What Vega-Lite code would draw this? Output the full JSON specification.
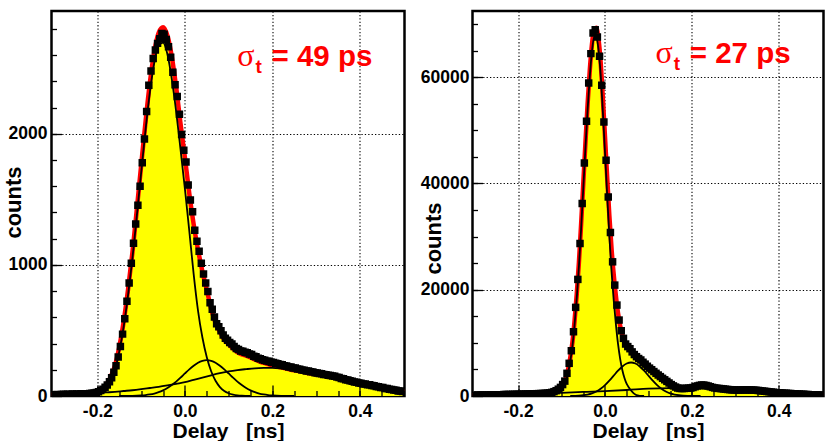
{
  "$schema": "https://vega.github.io/schema/vega-lite/v6.json",
  "padding": {"left": 0.5, "top": 9, "right": 5, "bottom": 0},
  "spacing": 12,
  "config": {
    "view": {"stroke": "black", "strokeWidth": 2.5},
    "font": "Liberation Sans",
    "axis": {
      "labelFont": "Liberation Sans", "labelFontSize": 17.5, "labelFontWeight": "bold", "labelColor": "black",
      "titleFont": "Liberation Sans", "titleFontSize": 21, "titleFontWeight": "bold", "titleColor": "black",
      "tickColor": "black", "tickWidth": 1.3, "domain": false, "grid": false, "labelFlush": false
    }
  },
  "datasets": {
    "la": [
      {"t": -0.2975, "n": 10}, {"t": -0.2925, "n": 12}, {"t": -0.2875, "n": 9}, {"t": -0.2825, "n": 11},
      {"t": -0.2775, "n": 13}, {"t": -0.2725, "n": 11}, {"t": -0.2675, "n": 14}, {"t": -0.2625, "n": 12},
      {"t": -0.2575, "n": 15}, {"t": -0.2525, "n": 13}, {"t": -0.2475, "n": 16}, {"t": -0.2425, "n": 14},
      {"t": -0.2375, "n": 17}, {"t": -0.2325, "n": 16}, {"t": -0.2275, "n": 18}, {"t": -0.2225, "n": 17},
      {"t": -0.2175, "n": 20}, {"t": -0.2125, "n": 21}, {"t": -0.2075, "n": 23}, {"t": -0.2025, "n": 26},
      {"t": -0.1975, "n": 32}, {"t": -0.1925, "n": 41}, {"t": -0.1875, "n": 52}, {"t": -0.1825, "n": 66},
      {"t": -0.1775, "n": 84}, {"t": -0.1725, "n": 108}, {"t": -0.1675, "n": 140}, {"t": -0.1625, "n": 182},
      {"t": -0.1575, "n": 230}, {"t": -0.1525, "n": 298}, {"t": -0.1475, "n": 378}, {"t": -0.1425, "n": 472},
      {"t": -0.1375, "n": 590}, {"t": -0.1325, "n": 722}, {"t": -0.1275, "n": 862}, {"t": -0.1225, "n": 1012},
      {"t": -0.1175, "n": 1165}, {"t": -0.1125, "n": 1312}, {"t": -0.1075, "n": 1455}, {"t": -0.1025, "n": 1600},
      {"t": -0.0975, "n": 1780}, {"t": -0.0925, "n": 1960}, {"t": -0.0875, "n": 2170}, {"t": -0.0825, "n": 2370},
      {"t": -0.0775, "n": 2480}, {"t": -0.0725, "n": 2575}, {"t": -0.0675, "n": 2640}, {"t": -0.0625, "n": 2690},
      {"t": -0.0575, "n": 2725}, {"t": -0.0525, "n": 2765}, {"t": -0.0475, "n": 2760}, {"t": -0.0425, "n": 2720},
      {"t": -0.0375, "n": 2665}, {"t": -0.0325, "n": 2585}, {"t": -0.0275, "n": 2470}, {"t": -0.0225, "n": 2375},
      {"t": -0.0175, "n": 2285}, {"t": -0.0125, "n": 2150}, {"t": -0.0075, "n": 1995}, {"t": -0.0025, "n": 1875},
      {"t": 0.0025, "n": 1785}, {"t": 0.0075, "n": 1610}, {"t": 0.0125, "n": 1495}, {"t": 0.0175, "n": 1405},
      {"t": 0.0225, "n": 1265}, {"t": 0.0275, "n": 1180}, {"t": 0.0325, "n": 1105}, {"t": 0.0375, "n": 1012},
      {"t": 0.0425, "n": 930}, {"t": 0.0475, "n": 862}, {"t": 0.0525, "n": 798}, {"t": 0.0575, "n": 712},
      {"t": 0.0625, "n": 662}, {"t": 0.0675, "n": 602}, {"t": 0.0725, "n": 552}, {"t": 0.0775, "n": 528},
      {"t": 0.0825, "n": 497}, {"t": 0.0875, "n": 466}, {"t": 0.0925, "n": 441}, {"t": 0.0975, "n": 426},
      {"t": 0.1025, "n": 408}, {"t": 0.1075, "n": 396}, {"t": 0.1125, "n": 377}, {"t": 0.1175, "n": 362},
      {"t": 0.1225, "n": 354}, {"t": 0.1275, "n": 344}, {"t": 0.1325, "n": 341}, {"t": 0.1375, "n": 333},
      {"t": 0.1425, "n": 330}, {"t": 0.1475, "n": 320}, {"t": 0.1525, "n": 316}, {"t": 0.1575, "n": 304},
      {"t": 0.1625, "n": 299}, {"t": 0.1675, "n": 288}, {"t": 0.1725, "n": 284}, {"t": 0.1775, "n": 276},
      {"t": 0.1825, "n": 273}, {"t": 0.1875, "n": 266}, {"t": 0.1925, "n": 265}, {"t": 0.1975, "n": 258},
      {"t": 0.2025, "n": 256}, {"t": 0.2075, "n": 249}, {"t": 0.2125, "n": 247}, {"t": 0.2175, "n": 240},
      {"t": 0.2225, "n": 238}, {"t": 0.2275, "n": 231}, {"t": 0.2325, "n": 229}, {"t": 0.2375, "n": 222},
      {"t": 0.2425, "n": 221}, {"t": 0.2475, "n": 214}, {"t": 0.2525, "n": 213}, {"t": 0.2575, "n": 206},
      {"t": 0.2625, "n": 205}, {"t": 0.2675, "n": 198}, {"t": 0.2725, "n": 197}, {"t": 0.2775, "n": 191},
      {"t": 0.2825, "n": 191}, {"t": 0.2875, "n": 185}, {"t": 0.2925, "n": 184}, {"t": 0.2975, "n": 178},
      {"t": 0.3025, "n": 176}, {"t": 0.3075, "n": 171}, {"t": 0.3125, "n": 169}, {"t": 0.3175, "n": 164},
      {"t": 0.3225, "n": 163}, {"t": 0.3275, "n": 158}, {"t": 0.3325, "n": 157}, {"t": 0.3375, "n": 152},
      {"t": 0.3425, "n": 150}, {"t": 0.3475, "n": 144}, {"t": 0.3525, "n": 141}, {"t": 0.3575, "n": 134},
      {"t": 0.3625, "n": 131}, {"t": 0.3675, "n": 124}, {"t": 0.3725, "n": 122}, {"t": 0.3775, "n": 116},
      {"t": 0.3825, "n": 113}, {"t": 0.3875, "n": 107}, {"t": 0.3925, "n": 105}, {"t": 0.3975, "n": 99},
      {"t": 0.4025, "n": 97}, {"t": 0.4075, "n": 92}, {"t": 0.4125, "n": 91}, {"t": 0.4175, "n": 86},
      {"t": 0.4225, "n": 85}, {"t": 0.4275, "n": 80}, {"t": 0.4325, "n": 78}, {"t": 0.4375, "n": 73},
      {"t": 0.4425, "n": 71}, {"t": 0.4475, "n": 65}, {"t": 0.4525, "n": 64}, {"t": 0.4575, "n": 58},
      {"t": 0.4625, "n": 57}, {"t": 0.4675, "n": 52}, {"t": 0.4725, "n": 50}, {"t": 0.4775, "n": 45},
      {"t": 0.4825, "n": 44}, {"t": 0.4875, "n": 39}, {"t": 0.4925, "n": 38}, {"t": 0.4975, "n": 34}
    ],
    "lf": [
      {"t": -0.305, "n": 10}, {"t": -0.28, "n": 12}, {"t": -0.26, "n": 14}, {"t": -0.24, "n": 16},
      {"t": -0.23, "n": 19}, {"t": -0.22, "n": 22}, {"t": -0.21, "n": 26}, {"t": -0.2, "n": 34},
      {"t": -0.19, "n": 52}, {"t": -0.18, "n": 85}, {"t": -0.17, "n": 144}, {"t": -0.16, "n": 232},
      {"t": -0.15, "n": 375}, {"t": -0.14, "n": 568}, {"t": -0.13, "n": 812}, {"t": -0.12, "n": 1095},
      {"t": -0.11, "n": 1422}, {"t": -0.1, "n": 1761}, {"t": -0.09, "n": 2093}, {"t": -0.08, "n": 2393},
      {"t": -0.07, "n": 2626}, {"t": -0.06, "n": 2771}, {"t": -0.05, "n": 2813}, {"t": -0.04, "n": 2749},
      {"t": -0.03, "n": 2589}, {"t": -0.02, "n": 2355}, {"t": -0.01, "n": 2076}, {"t": 0, "n": 1820},
      {"t": 0.01, "n": 1545}, {"t": 0.02, "n": 1310}, {"t": 0.03, "n": 1115}, {"t": 0.04, "n": 950},
      {"t": 0.05, "n": 810}, {"t": 0.06, "n": 665}, {"t": 0.07, "n": 560}, {"t": 0.08, "n": 490},
      {"t": 0.09, "n": 430}, {"t": 0.1, "n": 395}, {"t": 0.11, "n": 362}, {"t": 0.12, "n": 334},
      {"t": 0.13, "n": 318}, {"t": 0.14, "n": 308}, {"t": 0.15, "n": 294}, {"t": 0.16, "n": 278},
      {"t": 0.17, "n": 264}, {"t": 0.18, "n": 252}, {"t": 0.19, "n": 243}, {"t": 0.2, "n": 234},
      {"t": 0.22, "n": 218}, {"t": 0.24, "n": 202}, {"t": 0.26, "n": 190}, {"t": 0.28, "n": 176},
      {"t": 0.3, "n": 166}, {"t": 0.32, "n": 154}, {"t": 0.34, "n": 142}, {"t": 0.36, "n": 126},
      {"t": 0.38, "n": 109}, {"t": 0.4, "n": 94}, {"t": 0.42, "n": 82}, {"t": 0.44, "n": 70},
      {"t": 0.46, "n": 57}, {"t": 0.48, "n": 45}, {"t": 0.502, "n": 33}
    ],
    "lc": [
      {"c": "main", "t": -0.25, "n": 0}, {"c": "main", "t": -0.23, "n": 1}, {"c": "main", "t": -0.22, "n": 3},
      {"c": "main", "t": -0.21, "n": 6}, {"c": "main", "t": -0.2, "n": 12}, {"c": "main", "t": -0.19, "n": 28},
      {"c": "main", "t": -0.18, "n": 58}, {"c": "main", "t": -0.17, "n": 115}, {"c": "main", "t": -0.16, "n": 200},
      {"c": "main", "t": -0.15, "n": 340}, {"c": "main", "t": -0.14, "n": 530}, {"c": "main", "t": -0.13, "n": 770},
      {"c": "main", "t": -0.12, "n": 1050}, {"c": "main", "t": -0.11, "n": 1372}, {"c": "main", "t": -0.1, "n": 1705},
      {"c": "main", "t": -0.09, "n": 2030}, {"c": "main", "t": -0.08, "n": 2320}, {"c": "main", "t": -0.07, "n": 2542},
      {"c": "main", "t": -0.06, "n": 2672}, {"c": "main", "t": -0.05, "n": 2695}, {"c": "main", "t": -0.04, "n": 2607},
      {"c": "main", "t": -0.03, "n": 2418}, {"c": "main", "t": -0.02, "n": 2170}, {"c": "main", "t": -0.01, "n": 1880},
      {"c": "main", "t": 0, "n": 1580}, {"c": "main", "t": 0.01, "n": 1260}, {"c": "main", "t": 0.02, "n": 930},
      {"c": "main", "t": 0.03, "n": 650}, {"c": "main", "t": 0.04, "n": 446}, {"c": "main", "t": 0.05, "n": 296},
      {"c": "main", "t": 0.06, "n": 189}, {"c": "main", "t": 0.07, "n": 116}, {"c": "main", "t": 0.08, "n": 68},
      {"c": "main", "t": 0.09, "n": 38}, {"c": "main", "t": 0.1, "n": 21}, {"c": "main", "t": 0.11, "n": 11},
      {"c": "main", "t": 0.12, "n": 5}, {"c": "main", "t": 0.13, "n": 2}, {"c": "main", "t": 0.15, "n": 0},
      {"c": "g2", "t": -0.15, "n": 0}, {"c": "g2", "t": -0.12, "n": 1}, {"c": "g2", "t": -0.1, "n": 4},
      {"c": "g2", "t": -0.09, "n": 7}, {"c": "g2", "t": -0.08, "n": 12}, {"c": "g2", "t": -0.07, "n": 19},
      {"c": "g2", "t": -0.06, "n": 29}, {"c": "g2", "t": -0.05, "n": 43}, {"c": "g2", "t": -0.04, "n": 61},
      {"c": "g2", "t": -0.03, "n": 84}, {"c": "g2", "t": -0.02, "n": 110}, {"c": "g2", "t": -0.01, "n": 140},
      {"c": "g2", "t": 0, "n": 172}, {"c": "g2", "t": 0.01, "n": 203}, {"c": "g2", "t": 0.02, "n": 231},
      {"c": "g2", "t": 0.03, "n": 254}, {"c": "g2", "t": 0.04, "n": 268}, {"c": "g2", "t": 0.05, "n": 273},
      {"c": "g2", "t": 0.06, "n": 268}, {"c": "g2", "t": 0.07, "n": 254}, {"c": "g2", "t": 0.08, "n": 231},
      {"c": "g2", "t": 0.09, "n": 203}, {"c": "g2", "t": 0.1, "n": 172}, {"c": "g2", "t": 0.11, "n": 140},
      {"c": "g2", "t": 0.12, "n": 110}, {"c": "g2", "t": 0.13, "n": 84}, {"c": "g2", "t": 0.14, "n": 61},
      {"c": "g2", "t": 0.15, "n": 43}, {"c": "g2", "t": 0.16, "n": 29}, {"c": "g2", "t": 0.17, "n": 19},
      {"c": "g2", "t": 0.18, "n": 12}, {"c": "g2", "t": 0.19, "n": 7}, {"c": "g2", "t": 0.2, "n": 4},
      {"c": "g2", "t": 0.22, "n": 1}, {"c": "g2", "t": 0.25, "n": 0},
      {"c": "bg", "t": -0.305, "n": 10}, {"c": "bg", "t": -0.28, "n": 12}, {"c": "bg", "t": -0.26, "n": 14},
      {"c": "bg", "t": -0.24, "n": 16}, {"c": "bg", "t": -0.22, "n": 19}, {"c": "bg", "t": -0.2, "n": 22},
      {"c": "bg", "t": -0.18, "n": 27}, {"c": "bg", "t": -0.16, "n": 32}, {"c": "bg", "t": -0.14, "n": 38},
      {"c": "bg", "t": -0.12, "n": 44}, {"c": "bg", "t": -0.1, "n": 52}, {"c": "bg", "t": -0.08, "n": 61},
      {"c": "bg", "t": -0.06, "n": 70}, {"c": "bg", "t": -0.04, "n": 81}, {"c": "bg", "t": -0.02, "n": 93},
      {"c": "bg", "t": 0, "n": 105}, {"c": "bg", "t": 0.02, "n": 123}, {"c": "bg", "t": 0.04, "n": 141},
      {"c": "bg", "t": 0.06, "n": 158}, {"c": "bg", "t": 0.08, "n": 174}, {"c": "bg", "t": 0.1, "n": 188},
      {"c": "bg", "t": 0.12, "n": 198}, {"c": "bg", "t": 0.14, "n": 205}, {"c": "bg", "t": 0.16, "n": 211},
      {"c": "bg", "t": 0.18, "n": 214}, {"c": "bg", "t": 0.2, "n": 215}, {"c": "bg", "t": 0.22, "n": 210},
      {"c": "bg", "t": 0.24, "n": 201}, {"c": "bg", "t": 0.26, "n": 190}, {"c": "bg", "t": 0.28, "n": 176},
      {"c": "bg", "t": 0.3, "n": 166}, {"c": "bg", "t": 0.32, "n": 154}, {"c": "bg", "t": 0.34, "n": 142},
      {"c": "bg", "t": 0.36, "n": 126}, {"c": "bg", "t": 0.38, "n": 109}, {"c": "bg", "t": 0.4, "n": 94},
      {"c": "bg", "t": 0.42, "n": 82}, {"c": "bg", "t": 0.44, "n": 70}, {"c": "bg", "t": 0.46, "n": 57},
      {"c": "bg", "t": 0.48, "n": 45}, {"c": "bg", "t": 0.502, "n": 33}
    ],
    "ra": [
      {"t": -0.2975, "n": 160}, {"t": -0.2925, "n": 168}, {"t": -0.2875, "n": 172}, {"t": -0.2825, "n": 186},
      {"t": -0.2775, "n": 188}, {"t": -0.2725, "n": 202}, {"t": -0.2675, "n": 204}, {"t": -0.2625, "n": 216},
      {"t": -0.2575, "n": 220}, {"t": -0.2525, "n": 232}, {"t": -0.2475, "n": 238}, {"t": -0.2425, "n": 252},
      {"t": -0.2375, "n": 254}, {"t": -0.2325, "n": 266}, {"t": -0.2275, "n": 274}, {"t": -0.2225, "n": 286},
      {"t": -0.2175, "n": 294}, {"t": -0.2125, "n": 306}, {"t": -0.2075, "n": 314}, {"t": -0.2025, "n": 326},
      {"t": -0.1975, "n": 334}, {"t": -0.1925, "n": 346}, {"t": -0.1875, "n": 354}, {"t": -0.1825, "n": 370},
      {"t": -0.1775, "n": 380}, {"t": -0.1725, "n": 392}, {"t": -0.1675, "n": 404}, {"t": -0.1625, "n": 420},
      {"t": -0.1575, "n": 434}, {"t": -0.1525, "n": 450}, {"t": -0.1475, "n": 466}, {"t": -0.1425, "n": 486},
      {"t": -0.1375, "n": 510}, {"t": -0.1325, "n": 546}, {"t": -0.1275, "n": 600}, {"t": -0.1225, "n": 680},
      {"t": -0.1175, "n": 820}, {"t": -0.1125, "n": 1000}, {"t": -0.1075, "n": 1280}, {"t": -0.1025, "n": 1620},
      {"t": -0.0975, "n": 2150}, {"t": -0.0925, "n": 2800}, {"t": -0.0875, "n": 4270}, {"t": -0.0825, "n": 6150},
      {"t": -0.0775, "n": 8520}, {"t": -0.0725, "n": 12090}, {"t": -0.0675, "n": 16680}, {"t": -0.0625, "n": 21940},
      {"t": -0.0575, "n": 28700}, {"t": -0.0525, "n": 36230}, {"t": -0.0475, "n": 43860}, {"t": -0.0425, "n": 51700},
      {"t": -0.0375, "n": 58900}, {"t": -0.0325, "n": 64430}, {"t": -0.0275, "n": 68300}, {"t": -0.0225, "n": 68940},
      {"t": -0.0175, "n": 67550}, {"t": -0.0125, "n": 63920}, {"t": -0.0075, "n": 58470}, {"t": -0.0025, "n": 51570},
      {"t": 0.0025, "n": 44370}, {"t": 0.0075, "n": 37470}, {"t": 0.0125, "n": 30770}, {"t": 0.0175, "n": 25250},
      {"t": 0.0225, "n": 20870}, {"t": 0.0275, "n": 17110}, {"t": 0.0325, "n": 14290}, {"t": 0.0375, "n": 12280},
      {"t": 0.0425, "n": 10850}, {"t": 0.0475, "n": 9780}, {"t": 0.0525, "n": 9300}, {"t": 0.0575, "n": 8900},
      {"t": 0.0625, "n": 8300}, {"t": 0.0675, "n": 7800}, {"t": 0.0725, "n": 7400}, {"t": 0.0775, "n": 7050},
      {"t": 0.0825, "n": 6780}, {"t": 0.0875, "n": 6350}, {"t": 0.0925, "n": 6000}, {"t": 0.0975, "n": 5600},
      {"t": 0.1025, "n": 5250}, {"t": 0.1075, "n": 4950}, {"t": 0.1125, "n": 4600}, {"t": 0.1175, "n": 4270},
      {"t": 0.1225, "n": 3950}, {"t": 0.1275, "n": 3650}, {"t": 0.1325, "n": 3330}, {"t": 0.1375, "n": 3050},
      {"t": 0.1425, "n": 2750}, {"t": 0.1475, "n": 2450}, {"t": 0.1525, "n": 2150}, {"t": 0.1575, "n": 1900},
      {"t": 0.1625, "n": 1680}, {"t": 0.1675, "n": 1500}, {"t": 0.1725, "n": 1420}, {"t": 0.1775, "n": 1400},
      {"t": 0.1825, "n": 1420}, {"t": 0.1875, "n": 1450}, {"t": 0.1925, "n": 1480}, {"t": 0.1975, "n": 1500},
      {"t": 0.2025, "n": 1600}, {"t": 0.2075, "n": 1750}, {"t": 0.2125, "n": 1900}, {"t": 0.2175, "n": 2000},
      {"t": 0.2225, "n": 2070}, {"t": 0.2275, "n": 2050}, {"t": 0.2325, "n": 1980}, {"t": 0.2375, "n": 1880},
      {"t": 0.2425, "n": 1750}, {"t": 0.2475, "n": 1620}, {"t": 0.2525, "n": 1520}, {"t": 0.2575, "n": 1460},
      {"t": 0.2625, "n": 1420}, {"t": 0.2675, "n": 1380}, {"t": 0.2725, "n": 1330}, {"t": 0.2775, "n": 1280},
      {"t": 0.2825, "n": 1230}, {"t": 0.2875, "n": 1190}, {"t": 0.2925, "n": 1160}, {"t": 0.2975, "n": 1140},
      {"t": 0.3025, "n": 1130}, {"t": 0.3075, "n": 1130}, {"t": 0.3125, "n": 1130}, {"t": 0.3175, "n": 1140},
      {"t": 0.3225, "n": 1150}, {"t": 0.3275, "n": 1150}, {"t": 0.3325, "n": 1140}, {"t": 0.3375, "n": 1130},
      {"t": 0.3425, "n": 1110}, {"t": 0.3475, "n": 1080}, {"t": 0.3525, "n": 1040}, {"t": 0.3575, "n": 1000},
      {"t": 0.3625, "n": 950}, {"t": 0.3675, "n": 900}, {"t": 0.3725, "n": 850}, {"t": 0.3775, "n": 800},
      {"t": 0.3825, "n": 750}, {"t": 0.3875, "n": 710}, {"t": 0.3925, "n": 670}, {"t": 0.3975, "n": 630},
      {"t": 0.4025, "n": 600}, {"t": 0.4075, "n": 570}, {"t": 0.4125, "n": 540}, {"t": 0.4175, "n": 510},
      {"t": 0.4225, "n": 480}, {"t": 0.4275, "n": 455}, {"t": 0.4325, "n": 430}, {"t": 0.4375, "n": 405},
      {"t": 0.4425, "n": 380}, {"t": 0.4475, "n": 360}, {"t": 0.4525, "n": 340}, {"t": 0.4575, "n": 320},
      {"t": 0.4625, "n": 300}, {"t": 0.4675, "n": 280}, {"t": 0.4725, "n": 260}, {"t": 0.4775, "n": 245},
      {"t": 0.4825, "n": 230}, {"t": 0.4875, "n": 215}, {"t": 0.4925, "n": 200}, {"t": 0.4975, "n": 190}
    ],
    "rf": [
      {"t": -0.305, "n": 150}, {"t": -0.28, "n": 180}, {"t": -0.26, "n": 215}, {"t": -0.24, "n": 250},
      {"t": -0.22, "n": 285}, {"t": -0.2, "n": 325}, {"t": -0.18, "n": 370}, {"t": -0.16, "n": 425},
      {"t": -0.14, "n": 480}, {"t": -0.13, "n": 530}, {"t": -0.125, "n": 600}, {"t": -0.12, "n": 700},
      {"t": -0.115, "n": 880}, {"t": -0.11, "n": 1120}, {"t": -0.105, "n": 1450}, {"t": -0.1, "n": 1850},
      {"t": -0.095, "n": 2500}, {"t": -0.09, "n": 3400}, {"t": -0.085, "n": 5000}, {"t": -0.08, "n": 7200},
      {"t": -0.075, "n": 10100}, {"t": -0.07, "n": 14200}, {"t": -0.065, "n": 19200}, {"t": -0.06, "n": 25200},
      {"t": -0.055, "n": 32300}, {"t": -0.05, "n": 40000}, {"t": -0.045, "n": 47700}, {"t": -0.04, "n": 55000},
      {"t": -0.035, "n": 61300}, {"t": -0.03, "n": 66200}, {"t": -0.025, "n": 69000}, {"t": -0.02, "n": 69300},
      {"t": -0.015, "n": 67200}, {"t": -0.01, "n": 62800}, {"t": -0.005, "n": 56200}, {"t": 0, "n": 48800},
      {"t": 0.005, "n": 41200}, {"t": 0.01, "n": 34000}, {"t": 0.015, "n": 27800}, {"t": 0.02, "n": 22900},
      {"t": 0.025, "n": 18900}, {"t": 0.03, "n": 15600}, {"t": 0.035, "n": 13200}, {"t": 0.04, "n": 11500},
      {"t": 0.045, "n": 10300}, {"t": 0.05, "n": 9500}, {"t": 0.055, "n": 9000}, {"t": 0.06, "n": 8500},
      {"t": 0.065, "n": 8050}, {"t": 0.07, "n": 7600}, {"t": 0.075, "n": 7200}, {"t": 0.08, "n": 6800},
      {"t": 0.09, "n": 6150}, {"t": 0.1, "n": 5400}, {"t": 0.11, "n": 4750}, {"t": 0.12, "n": 4100},
      {"t": 0.13, "n": 3450}, {"t": 0.14, "n": 2850}, {"t": 0.15, "n": 2300}, {"t": 0.16, "n": 1850},
      {"t": 0.17, "n": 1600}, {"t": 0.18, "n": 1480}, {"t": 0.19, "n": 1460}, {"t": 0.2, "n": 1550},
      {"t": 0.21, "n": 1800}, {"t": 0.22, "n": 1980}, {"t": 0.23, "n": 1980}, {"t": 0.24, "n": 1780},
      {"t": 0.25, "n": 1560}, {"t": 0.26, "n": 1430}, {"t": 0.27, "n": 1340}, {"t": 0.28, "n": 1250},
      {"t": 0.29, "n": 1170}, {"t": 0.3, "n": 1130}, {"t": 0.31, "n": 1130}, {"t": 0.32, "n": 1140},
      {"t": 0.33, "n": 1140}, {"t": 0.34, "n": 1120}, {"t": 0.35, "n": 1060}, {"t": 0.36, "n": 970},
      {"t": 0.37, "n": 870}, {"t": 0.38, "n": 770}, {"t": 0.39, "n": 690}, {"t": 0.4, "n": 615},
      {"t": 0.42, "n": 495}, {"t": 0.44, "n": 390}, {"t": 0.46, "n": 310}, {"t": 0.48, "n": 240},
      {"t": 0.503, "n": 180}
    ],
    "rc": [
      {"c": "main", "t": -0.14, "n": 0}, {"c": "main", "t": -0.13, "n": 20}, {"c": "main", "t": -0.125, "n": 70},
      {"c": "main", "t": -0.12, "n": 160}, {"c": "main", "t": -0.115, "n": 330}, {"c": "main", "t": -0.11, "n": 550},
      {"c": "main", "t": -0.105, "n": 870}, {"c": "main", "t": -0.1, "n": 1250}, {"c": "main", "t": -0.095, "n": 1890},
      {"c": "main", "t": -0.09, "n": 2770}, {"c": "main", "t": -0.085, "n": 4355}, {"c": "main", "t": -0.08, "n": 6540},
      {"c": "main", "t": -0.075, "n": 9410}, {"c": "main", "t": -0.07, "n": 13510}, {"c": "main", "t": -0.065, "n": 18460},
      {"c": "main", "t": -0.06, "n": 24400}, {"c": "main", "t": -0.055, "n": 31450}, {"c": "main", "t": -0.05, "n": 39100},
      {"c": "main", "t": -0.045, "n": 46730}, {"c": "main", "t": -0.04, "n": 53930}, {"c": "main", "t": -0.035, "n": 60100},
      {"c": "main", "t": -0.03, "n": 64870}, {"c": "main", "t": -0.025, "n": 67500}, {"c": "main", "t": -0.02, "n": 67590},
      {"c": "main", "t": -0.015, "n": 65230}, {"c": "main", "t": -0.01, "n": 60540}, {"c": "main", "t": -0.005, "n": 53610},
      {"c": "main", "t": 0, "n": 45820}, {"c": "main", "t": 0.005, "n": 37800}, {"c": "main", "t": 0.01, "n": 30150},
      {"c": "main", "t": 0.015, "n": 23470}, {"c": "main", "t": 0.02, "n": 18070}, {"c": "main", "t": 0.025, "n": 13580},
      {"c": "main", "t": 0.03, "n": 9790}, {"c": "main", "t": 0.035, "n": 6950}, {"c": "main", "t": 0.04, "n": 4850},
      {"c": "main", "t": 0.045, "n": 3330}, {"c": "main", "t": 0.05, "n": 2264}, {"c": "main", "t": 0.055, "n": 1600},
      {"c": "main", "t": 0.06, "n": 1030}, {"c": "main", "t": 0.065, "n": 600}, {"c": "main", "t": 0.07, "n": 284},
      {"c": "main", "t": 0.075, "n": 120}, {"c": "main", "t": 0.08, "n": 40}, {"c": "main", "t": 0.09, "n": 0},
      {"c": "g2", "t": -0.08, "n": 0}, {"c": "g2", "t": -0.07, "n": 30}, {"c": "g2", "t": -0.06, "n": 70},
      {"c": "g2", "t": -0.05, "n": 144}, {"c": "g2", "t": -0.04, "n": 277}, {"c": "g2", "t": -0.03, "n": 501},
      {"c": "g2", "t": -0.02, "n": 853}, {"c": "g2", "t": -0.01, "n": 1363}, {"c": "g2", "t": 0, "n": 2046},
      {"c": "g2", "t": 0.01, "n": 2885}, {"c": "g2", "t": 0.02, "n": 3821}, {"c": "g2", "t": 0.03, "n": 4756},
      {"c": "g2", "t": 0.04, "n": 5560}, {"c": "g2", "t": 0.05, "n": 6106}, {"c": "g2", "t": 0.06, "n": 6300},
      {"c": "g2", "t": 0.07, "n": 6106}, {"c": "g2", "t": 0.08, "n": 5560}, {"c": "g2", "t": 0.09, "n": 4756},
      {"c": "g2", "t": 0.1, "n": 3821}, {"c": "g2", "t": 0.11, "n": 2885}, {"c": "g2", "t": 0.12, "n": 2046},
      {"c": "g2", "t": 0.13, "n": 1363}, {"c": "g2", "t": 0.14, "n": 853}, {"c": "g2", "t": 0.15, "n": 501},
      {"c": "g2", "t": 0.16, "n": 277}, {"c": "g2", "t": 0.17, "n": 145}, {"c": "g2", "t": 0.18, "n": 71},
      {"c": "g2", "t": 0.19, "n": 33}, {"c": "g2", "t": 0.2, "n": 14}, {"c": "g2", "t": 0.22, "n": 0},
      {"c": "bg", "t": -0.305, "n": 145}, {"c": "bg", "t": -0.25, "n": 220}, {"c": "bg", "t": -0.2, "n": 320},
      {"c": "bg", "t": -0.15, "n": 450}, {"c": "bg", "t": -0.1, "n": 600}, {"c": "bg", "t": -0.05, "n": 760},
      {"c": "bg", "t": 0, "n": 930}, {"c": "bg", "t": 0.05, "n": 1130}, {"c": "bg", "t": 0.1, "n": 1380},
      {"c": "bg", "t": 0.15, "n": 1480}, {"c": "bg", "t": 0.2, "n": 1450}, {"c": "bg", "t": 0.25, "n": 1330},
      {"c": "bg", "t": 0.3, "n": 1120}, {"c": "bg", "t": 0.35, "n": 960}, {"c": "bg", "t": 0.4, "n": 600},
      {"c": "bg", "t": 0.45, "n": 345}, {"c": "bg", "t": 0.503, "n": 178}
    ]
  },
  "hconcat": [
    {
      "width": 353,
      "height": 385,
      "resolve": {"axis": {"x": "independent", "y": "independent"}},
      "layer": [
        {
          "data": {"name": "la"},
          "mark": {"type": "area", "interpolate": "step", "color": "#ffff00", "opacity": 1, "clip": true},
          "encoding": {
            "x": {
              "field": "t", "type": "quantitative",
              "scale": {"domain": [-0.305, 0.502], "nice": false, "zero": false},
              "axis": {
                "orient": "bottom", "values": [-0.2, 0, 0.2, 0.4], "tickSize": -11, "labelPadding": 17,
                "zindex": 1, "labelExpr": "replace(datum.label, '\u2212', '-')",
                "title": "Delay\u00a0\u00a0\u00a0[ns]", "titleBaseline": "alphabetic", "titleY": 41.2
              }
            },
            "y": {
              "field": "n", "type": "quantitative",
              "scale": {"domain": [0, 2937], "nice": false},
              "axis": {
                "orient": "left", "values": [0, 1000, 2000], "format": "d", "tickSize": -10, "labelPadding": 14.5,
                "zindex": 1, "title": "counts", "titleFontSize": 22, "titleAngle": -90, "titleBaseline": "alphabetic",
                "titleAlign": "center", "titleX": -31, "titleY": 191
              }
            }
          }
        },
        {
          "data": {"name": "lf"},
          "mark": {"type": "line", "color": "#ff0000", "strokeWidth": 4.5, "interpolate": "monotone", "clip": true},
          "encoding": {
            "x": {
              "field": "t", "type": "quantitative",
              "axis": {
                "orient": "bottom", "values": [-0.3, -0.25, -0.2, -0.15, -0.1, -0.05, 0, 0.05, 0.1, 0.15, 0.2, 0.25, 0.3, 0.35, 0.4, 0.45, 0.5],
                "tickSize": -5.5, "labels": false, "title": null, "zindex": 1
              }
            },
            "y": {
              "field": "n", "type": "quantitative",
              "axis": {
                "orient": "left", "values": [200, 400, 600, 800, 1000, 1200, 1400, 1600, 1800, 2000, 2200, 2400, 2600, 2800],
                "tickSize": -5, "labels": false, "title": null, "zindex": 1
              }
            }
          }
        },
        {
          "data": {"name": "lc"},
          "mark": {"type": "line", "color": "black", "strokeWidth": 1.8, "interpolate": "monotone", "clip": true},
          "encoding": {
            "x": {
              "field": "t", "type": "quantitative",
              "axis": {
                "orient": "bottom", "values": [-0.2, 0, 0.2, 0.4], "grid": true, "gridColor": "black",
                "gridDash": [1.3, 2.1], "gridWidth": 1.1, "ticks": false, "labels": false, "title": null, "zindex": 0
              }
            },
            "y": {
              "field": "n", "type": "quantitative",
              "axis": {
                "orient": "left", "values": [1000, 2000], "grid": true, "gridColor": "black",
                "gridDash": [1.3, 2.1], "gridWidth": 1.1, "ticks": false, "labels": false, "title": null, "zindex": 0
              }
            },
            "detail": {"field": "c", "type": "nominal"}
          }
        },
        {
          "data": {"name": "la"},
          "mark": {"type": "point", "shape": "square", "filled": true, "color": "black", "opacity": 1, "size": 56, "clip": true},
          "encoding": {
            "x": {"field": "t", "type": "quantitative", "axis": null},
            "y": {"field": "n", "type": "quantitative", "axis": null}
          }
        },
        {
          "data": {"values": [{}]},
          "mark": {"type": "text", "text": "σ", "font": "Liberation Serif", "fontSize": 32, "color": "#ff0000", "align": "right", "baseline": "alphabetic"},
          "encoding": {
            "x": {"datum": 0.159, "type": "quantitative", "axis": null},
            "y": {"datum": 2520, "type": "quantitative", "axis": null}
          }
        },
        {
          "data": {"values": [{}]},
          "mark": {"type": "text", "text": "t", "fontSize": 19, "fontWeight": "bold", "color": "#ff0000", "align": "left", "baseline": "alphabetic", "dx": 1, "dy": 7},
          "encoding": {
            "x": {"datum": 0.159, "type": "quantitative", "axis": null},
            "y": {"datum": 2520, "type": "quantitative", "axis": null}
          }
        },
        {
          "data": {"values": [{}]},
          "mark": {"type": "text", "text": "= 49 ps", "fontSize": 29.5, "fontWeight": "bold", "color": "#ff0000", "align": "left", "baseline": "alphabetic", "dx": 17},
          "encoding": {
            "x": {"datum": 0.159, "type": "quantitative", "axis": null},
            "y": {"datum": 2520, "type": "quantitative", "axis": null}
          }
        }
      ]
    },
    {
      "width": 351,
      "height": 385,
      "resolve": {"axis": {"x": "independent", "y": "independent"}},
      "layer": [
        {
          "data": {"name": "ra"},
          "mark": {"type": "area", "interpolate": "step", "color": "#ffff00", "opacity": 1, "clip": true},
          "encoding": {
            "x": {
              "field": "t", "type": "quantitative",
              "scale": {"domain": [-0.305, 0.503], "nice": false, "zero": false},
              "axis": {
                "orient": "bottom", "values": [-0.2, 0, 0.2, 0.4], "tickSize": -11, "labelPadding": 17,
                "zindex": 1, "labelExpr": "replace(datum.label, '\u2212', '-')",
                "title": "Delay\u00a0\u00a0\u00a0[ns]", "titleBaseline": "alphabetic", "titleY": 41.2
              }
            },
            "y": {
              "field": "n", "type": "quantitative",
              "scale": {"domain": [0, 72450], "nice": false},
              "axis": {
                "orient": "left", "values": [0, 20000, 40000, 60000], "format": "d", "tickSize": -10, "labelPadding": 13.5,
                "zindex": 1, "title": "counts", "titleFontSize": 22, "titleAngle": -90, "titleBaseline": "alphabetic",
                "titleAlign": "center", "titleX": -32, "titleY": 227
              }
            }
          }
        },
        {
          "data": {"name": "rf"},
          "mark": {"type": "line", "color": "#ff0000", "strokeWidth": 4.5, "interpolate": "monotone", "clip": true},
          "encoding": {
            "x": {
              "field": "t", "type": "quantitative",
              "axis": {
                "orient": "bottom", "values": [-0.3, -0.25, -0.2, -0.15, -0.1, -0.05, 0, 0.05, 0.1, 0.15, 0.2, 0.25, 0.3, 0.35, 0.4, 0.45, 0.5],
                "tickSize": -5.5, "labels": false, "title": null, "zindex": 1
              }
            },
            "y": {
              "field": "n", "type": "quantitative",
              "axis": {
                "orient": "left", "values": [5000, 10000, 15000, 20000, 25000, 30000, 35000, 40000, 45000, 50000, 55000, 60000, 65000, 70000],
                "tickSize": -5, "labels": false, "title": null, "zindex": 1
              }
            }
          }
        },
        {
          "data": {"name": "rc"},
          "mark": {"type": "line", "color": "black", "strokeWidth": 1.8, "interpolate": "monotone", "clip": true},
          "encoding": {
            "x": {
              "field": "t", "type": "quantitative",
              "axis": {
                "orient": "bottom", "values": [-0.2, 0, 0.2, 0.4], "grid": true, "gridColor": "black",
                "gridDash": [1.3, 2.1], "gridWidth": 1.1, "ticks": false, "labels": false, "title": null, "zindex": 0
              }
            },
            "y": {
              "field": "n", "type": "quantitative",
              "axis": {
                "orient": "left", "values": [20000, 40000, 60000], "grid": true, "gridColor": "black",
                "gridDash": [1.3, 2.1], "gridWidth": 1.1, "ticks": false, "labels": false, "title": null, "zindex": 0
              }
            },
            "detail": {"field": "c", "type": "nominal"}
          }
        },
        {
          "data": {"name": "ra"},
          "mark": {"type": "point", "shape": "square", "filled": true, "color": "black", "opacity": 1, "size": 56, "clip": true},
          "encoding": {
            "x": {"field": "t", "type": "quantitative", "axis": null},
            "y": {"field": "n", "type": "quantitative", "axis": null}
          }
        },
        {
          "data": {"values": [{}]},
          "mark": {"type": "text", "text": "σ", "font": "Liberation Serif", "fontSize": 32, "color": "#ff0000", "align": "right", "baseline": "alphabetic"},
          "encoding": {
            "x": {"datum": 0.156, "type": "quantitative", "axis": null},
            "y": {"datum": 62660, "type": "quantitative", "axis": null}
          }
        },
        {
          "data": {"values": [{}]},
          "mark": {"type": "text", "text": "t", "fontSize": 19, "fontWeight": "bold", "color": "#ff0000", "align": "left", "baseline": "alphabetic", "dx": 1, "dy": 7},
          "encoding": {
            "x": {"datum": 0.156, "type": "quantitative", "axis": null},
            "y": {"datum": 62660, "type": "quantitative", "axis": null}
          }
        },
        {
          "data": {"values": [{}]},
          "mark": {"type": "text", "text": "= 27 ps", "fontSize": 29.5, "fontWeight": "bold", "color": "#ff0000", "align": "left", "baseline": "alphabetic", "dx": 17},
          "encoding": {
            "x": {"datum": 0.156, "type": "quantitative", "axis": null},
            "y": {"datum": 62660, "type": "quantitative", "axis": null}
          }
        }
      ]
    }
  ]
}
